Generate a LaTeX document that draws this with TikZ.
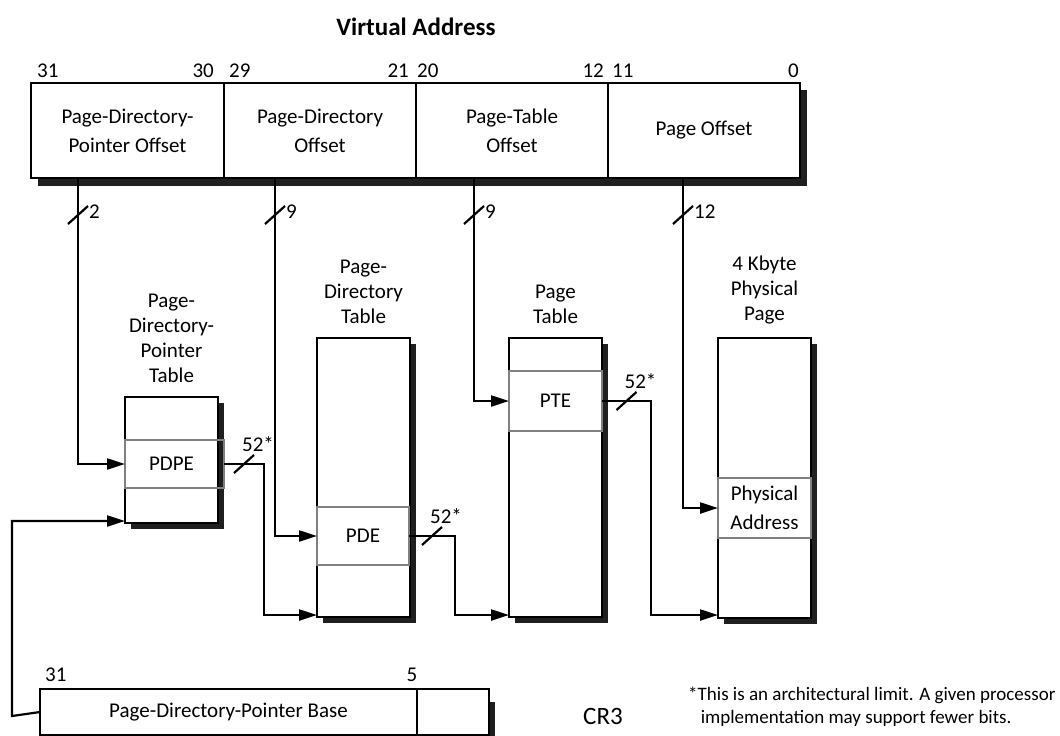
\documentclass[tikz,border=0pt]{standalone}
\usepackage{fontspec}
\setmainfont{Carlito}
\usetikzlibrary{arrows.meta,calc}
\begin{document}
\begin{tikzpicture}[x=1pt,y=-1pt,
  font=\fontsize{21}{25}\selectfont,
  box/.style={draw=black,line width=2.2pt,fill=white,inner sep=0pt,outer sep=0pt,anchor=north west},
  entry/.style={draw=black!50,line width=2.2pt,inner sep=0pt,outer sep=0pt,anchor=north west},
  shade/.style={fill=black!88},
  arr/.style={line width=2.2pt,-{Triangle[length=18pt,width=11pt]}},
  slashmark/.style={line width=2.2pt},
  lbl/.style={inner sep=0pt,align=center},
  intext/.style={inner sep=0pt,align=center,font=\fontsize{21}{29}\selectfont},
  num/.style={inner sep=0pt}]
\useasboundingbox (0,0) rectangle (1060,736);

% title
\node[lbl,font=\fontsize{25}{28}\selectfont\bfseries] (title) at (416,27) {Virtual Address};

% virtual address shadow and box
\fill[shade] (38,90) rectangle (807,186);
\node[box,minimum width=193pt,minimum height=95pt] (va1) at (31,83) {};
\node[box,minimum width=192pt,minimum height=95pt] (va2) at (224,83) {};
\node[box,minimum width=192pt,minimum height=95pt] (va3) at (416,83) {};
\node[box,minimum width=192pt,minimum height=95pt] (va4) at (608,83) {};
\node[intext] (t1) at (va1.center) {Page-Directory-\\Pointer Offset};
\node[intext] (t2) at (va2.center) {Page-Directory\\Offset};
\node[intext] (t3) at (va3.center) {Page-Table\\Offset};
\node[intext] (t4) at (va4.center) {Page Offset};

% bit numbers
\node[num,anchor=west] (b31) at (37,71) {31};
\node[num,anchor=east] (b30) at (214,71) {30};
\node[num,anchor=west] (b29) at (229,71) {29};
\node[num,anchor=east] (b21) at (409,71) {21};
\node[num,anchor=west] (b20) at (417,71) {20};
\node[num,anchor=east] (b12) at (604,71) {12};
\node[num,anchor=west] (b11) at (612,71) {11};
\node[num,anchor=east] (b0) at (799,71) {0};

% tables (shadows first)
\fill[shade] (131,403) rectangle (224,529);
\fill[shade] (323,344) rectangle (416,623);
\fill[shade] (515,344) rectangle (608,623);
\fill[shade] (724,344) rectangle (817,624);
\node[box,minimum width=93pt,minimum height=126pt] (pdpt) at (125,397) {};
\node[box,minimum width=93pt,minimum height=279pt] (pdt) at (317,338) {};
\node[box,minimum width=93pt,minimum height=279pt] (pt) at (509,338) {};
\node[box,minimum width=93pt,minimum height=280pt] (pp) at (718,338) {};

\node[entry,minimum width=99pt,minimum height=48pt] (pdpe) at (125,440) {};
\node[intext] at ($(pdpe.center)+(-3,0)$) (pdpet) {PDPE};
\node[entry,minimum width=92pt,minimum height=58pt] (pde) at (317,507) {};
\node[intext] (pdet) at (pde.center) {PDE};
\node[entry,minimum width=93pt,minimum height=60pt] (pte) at (509,371) {};
\node[intext] (ptet) at (pte.center) {PTE};
\node[entry,minimum width=93pt,minimum height=60pt] (pa) at (718,478) {};
\node[intext] (pat) at (pa.center) {Physical\\Address};

% table labels
\node[lbl,anchor=south] (pdptl) at ($(pdpt.north)+(0,-14)$) {Page-\\Directory-\\Pointer\\Table};
\node[lbl,anchor=south] (pdtl) at ($(pdt.north)+(0,-14)$) {Page-\\Directory\\Table};
\node[lbl,anchor=south] (ptl) at ($(pt.north)+(0,-14)$) {Page\\Table};
\node[lbl,anchor=south] (ppl) at ($(pp.north)+(0,-14)$) {4 Kbyte\\Physical\\Page};

% taps from virtual address
\coordinate (tap1) at ($(va1.south west)+(47,0)$);
\coordinate (tap2) at ($(va2.south west)+(51,0)$);
\coordinate (tap3) at ($(va3.south west)+(58,0)$);
\coordinate (tap4) at ($(va4.south west)+(75,0)$);
\draw[arr] (tap1) |- (pdpe.west);
\draw[arr] (tap2) |- (pde.west);
\draw[arr] (tap3) |- (pte.west);
\draw[arr] (tap4) |- (pa.west);
\foreach \t/\w/\n in {tap1/2/s1,tap2/9/s2,tap3/9/s3,tap4/12/s4}{
  \draw[slashmark] ($(\t)+(-10,46)$) -- ($(\t)+(10,28)$);
  \node[num,anchor=west] (\n) at ($(\t)+(11,34)$) {\w};
}

% entry to next table
\coordinate (k1) at ($(pdpe.east)+(40,0)$);
\coordinate (k2) at ($(pde.east)+(46,0)$);
\coordinate (k3) at ($(pte.east)+(49,0)$);
\draw[arr] (pdpe.east) -- (k1) |- ([yshift=2pt]pdt.south west);
\draw[arr] (pde.east) -- (k2) |- ([yshift=2pt]pt.south west);
\draw[arr] (pte.east) -- (k3) |- ([yshift=3pt]pp.south west);
\draw[slashmark] ($(pdpe.east)!0.5!(k1)+(-10,9)$) -- ++(20,-18);
\draw[slashmark] ($(pde.east)!0.5!(k2)+(-10,9)$) -- ++(20,-18);
\draw[slashmark] ($(pte.east)!0.5!(k3)+(-10,9)$) -- ++(20,-18);
\node[num] (l1) at ($(pdpe.east)!0.5!(k1)+(14,-20)$) {52*};
\node[num] (l2) at ($(pde.east)!0.5!(k2)+(14,-20)$) {52*};
\node[num] (l3) at ($(pte.east)!0.5!(k3)+(14,-20)$) {52*};

% CR3
\fill[shade] (489,702) rectangle (495,740);
\node[box,minimum width=377pt,minimum height=46pt] (cr3a) at (40,689) {};
\node[box,minimum width=72pt,minimum height=46pt] (cr3b) at (417,689) {};
\node[intext] (cr3t) at (cr3a.center) {Page-Directory-Pointer Base};
\node[num,anchor=west] (c31) at (45,675) {31};
\node[num] (c5) at (412,675) {5};
\node[num,font=\fontsize{25}{28}\selectfont] (cr3l) at (603,716) {CR3};
\coordinate (cbend) at (12,716);
\draw[arr] (cr3a.west) -- (cbend) |- ([yshift=2pt]pdpt.south west);

% footnote
\node[anchor=north west,inner sep=0pt,align=left,font=\fontsize{19}{23}\selectfont] (fn) at (688,687)
  {*This is an architectural limit. A given processor\\\phantom{*}\,implementation may support fewer bits.};
\end{tikzpicture}
\end{document}
